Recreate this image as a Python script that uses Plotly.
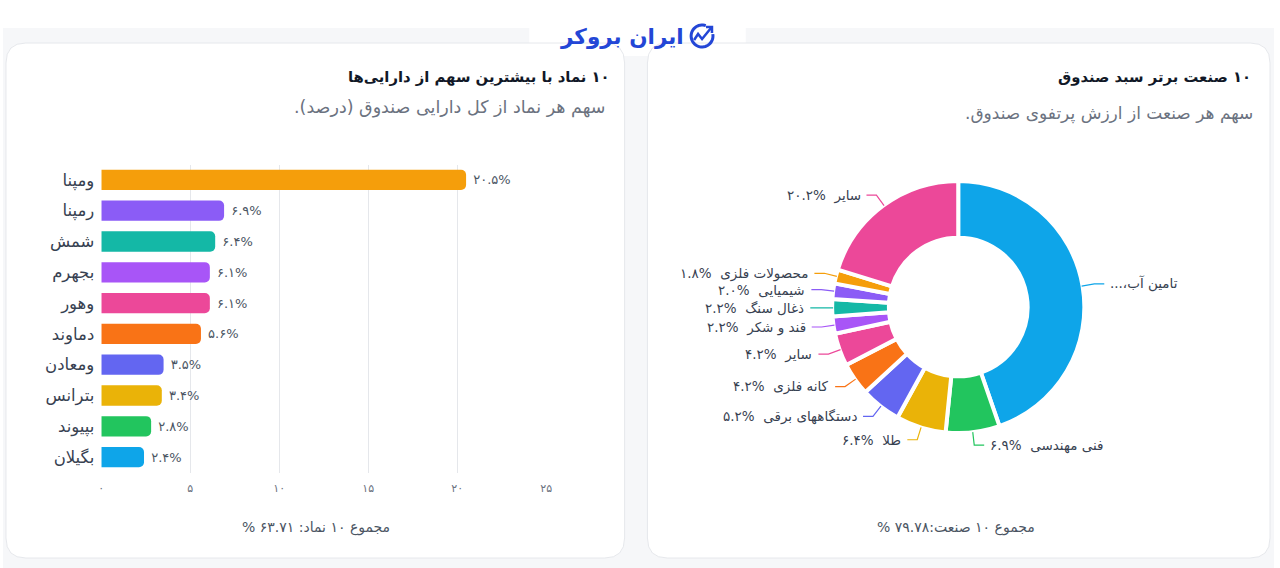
import math
import plotly.graph_objects as go

W, H = 1280, 568

# ---------------- data ----------------
symbols = ['ومپنا', 'رمپنا', 'شمش', 'بجهرم', 'وهور', 'دماوند', 'ومعادن', 'بترانس', 'بپیوند', 'بگیلان']
symbol_weights = [20.5, 6.9, 6.4, 6.1, 6.1, 5.6, 3.5, 3.4, 2.8, 2.4]
symbol_colors = ['#f59e0b', '#8b5cf6', '#14b8a6', '#a855f7', '#ec4899',
                 '#f97316', '#6366f1', '#eab308', '#22c55e', '#0ea5e9']
x_ticks = [0, 5, 10, 15, 20, 25]

industries = ['تامین آب، برق، گاز', 'فنی مهندسی', 'طلا', 'دستگاههای برقی', 'کانه فلزی',
              'سایر', 'قند و شکر', 'ذغال سنگ', 'شیمیایی', 'محصولات فلزی', 'سایر']
industry_shares = [44.7, 6.9, 6.4, 5.2, 4.2, 4.2, 2.2, 2.2, 2.0, 1.8, 20.2]
industry_colors = ['#0ea5e9', '#22c55e', '#eab308', '#6366f1', '#f97316',
                   '#ec4899', '#a855f7', '#14b8a6', '#8b5cf6', '#f59e0b', '#ec4899']

title_left = '۱۰ نماد با بیشترین سهم از دارایی‌ها'
subtitle_left = 'سهم هر نماد از کل دارایی صندوق (درصد).'
footer_left = 'مجموع ۱۰ نماد: ۶۳.۷۱ %'
title_right = '۱۰ صنعت برتر سبد صندوق'
subtitle_right = 'سهم هر صنعت از ارزش پرتفوی صندوق.'
footer_right = 'مجموع ۱۰ صنعت:۷۹.۷۸ %'
brand = 'ایران بروکر'

FONT = 'DejaVu Sans'
RLE, PDF = '\u202b', '\u202c'
FA = str.maketrans('0123456789', '۰۱۲۳۴۵۶۷۸۹')


def fa(s):
    return str(s).translate(FA)


def px(x):
    return x / W


def py(y):
    return 1 - y / H


def rrect(x0, y0, x1, y1, r):
    pts = [
        f"M {px(x0 + r)} {py(y0)}",
        f"L {px(x1 - r)} {py(y0)}",
        f"Q {px(x1)} {py(y0)} {px(x1)} {py(y0 + r)}",
        f"L {px(x1)} {py(y1 - r)}",
        f"Q {px(x1)} {py(y1)} {px(x1 - r)} {py(y1)}",
        f"L {px(x0 + r)} {py(y1)}",
        f"Q {px(x0)} {py(y1)} {px(x0)} {py(y1 - r)}",
        f"L {px(x0)} {py(y0 + r)}",
        f"Q {px(x0)} {py(y0)} {px(x0 + r)} {py(y0)} Z",
    ]
    return ' '.join(pts)


fig = go.Figure()

# ---------------- bar chart ----------------
fig.add_trace(go.Bar(
    x=symbol_weights, y=symbols, orientation='h',
    marker=dict(color=symbol_colors, line=dict(width=0)),
    width=0.66,
    text=[' ' + fa(f"{v:.1f}%") for v in symbol_weights],
    textposition='outside', cliponaxis=False,
    textfont=dict(family=FONT, size=13, color='#4b5563'),
    showlegend=False, hoverinfo='x+y',
))

# ---------------- donut ----------------
cx, cy, R = 962, 307, 127
fig.add_trace(go.Pie(
    labels=[f"{n}#{i}" for i, n in enumerate(industries)],
    values=industry_shares,
    marker=dict(colors=industry_colors, line=dict(color='white', width=4)),
    hole=0.55, sort=False, direction='clockwise', rotation=0,
    textinfo='none', showlegend=False, hoverinfo='percent',
    domain=dict(x=[px(cx - R), px(cx + R)], y=[py(cy + R), py(cy - R)]),
))

shapes = []
annotations = []

# backgrounds
shapes.append(dict(type='rect', xref='paper', yref='paper', x0=0, x1=1, y0=0, y1=py(28),
                   fillcolor='#f6f7f9', line=dict(width=0), layer='below'))
shapes.append(dict(type='path', xref='paper', yref='paper', path=rrect(530, 4, 748, 56, 12),
                   fillcolor='white', line=dict(width=0), layer='below'))
for (x0, x1) in [(3, 626), (649, 1276)]:
    shapes.append(dict(type='path', xref='paper', yref='paper', path=rrect(x0, 43, x1, 558, 20),
                       fillcolor='white', line=dict(color='#e6e8ec', width=1), layer='below'))

# donut labels with leader lines
Rv = 125
total = sum(industry_shares)
cum = 0.0
for name, val, col in zip(industries, industry_shares, industry_colors):
    mid = (cum + val / 2) / total * 2 * math.pi
    cum += val
    sx, sy = math.sin(mid), -math.cos(mid)
    x0, y0 = cx + (Rv + 1) * sx, cy + (Rv + 1) * sy
    x1, y1 = cx + (Rv + 14) * sx, cy + (Rv + 14) * sy
    side = 1 if sx > 0 else -1
    x2, y2 = x1 + side * 10, y1
    shapes.append(dict(type='path', xref='paper', yref='paper',
                       path=f"M {px(x0)} {py(y0)} L {px(x1)} {py(y1)} L {px(x2)} {py(y2)}",
                       line=dict(color=col, width=1.2)))
    if len(name) > 15:
        label = RLE + name[:9] + '...' + PDF
    else:
        label = fa(f"{val:.1f}%") + '  ' + name
    annotations.append(dict(xref='paper', yref='paper', x=px(x2 + side * 4), y=py(y2),
                            text=label, showarrow=False,
                            xanchor='left' if side > 0 else 'right', yanchor='middle',
                            font=dict(family=FONT, size=13.5, color='#374151')))

# titles / subtitles / footers
annotations += [
    dict(x=px(613), y=py(77), text='<b>' + RLE + title_left + PDF + '</b>', xanchor='right',
         font=dict(family=FONT, size=14.8, color='#111827')),
    dict(x=px(609), y=py(108), text=RLE + subtitle_left + PDF, xanchor='right',
         font=dict(family=FONT, size=17.5, color='#6b7280')),
    dict(x=px(1259), y=py(77), text='<b>' + RLE + title_right + PDF + '</b>', xanchor='right',
         font=dict(family=FONT, size=14.8, color='#111827')),
    dict(x=px(1261), y=py(113), text=RLE + subtitle_right + PDF, xanchor='right',
         font=dict(family=FONT, size=17, color='#6b7280')),
    dict(x=px(315), y=py(527), text=RLE + footer_left + PDF, xanchor='center',
         font=dict(family=FONT, size=14, color='#4b5563')),
    dict(x=px(960), y=py(527), text=RLE + footer_right + PDF, xanchor='center',
         font=dict(family=FONT, size=14, color='#4b5563')),
    dict(x=px(688), y=py(36), text='<b>' + brand + '</b>', xanchor='right',
         font=dict(family=FONT, size=21.5, color='#2346d6')),
]
for a in annotations:
    a.setdefault('xref', 'paper')
    a.setdefault('yref', 'paper')
    a.setdefault('showarrow', False)
    a.setdefault('yanchor', 'middle')

# logo icon
icx, icy, ir = 704, 36, 11
arc = []
for k in range(0, 41):
    t = math.radians(70 + k * 7.5)
    arc.append((icx + ir * math.cos(t), icy - ir * math.sin(t)))
shapes.append(dict(type='path', xref='paper', yref='paper',
                   path='M ' + ' L '.join(f"{px(a)} {py(b)}" for a, b in arc),
                   line=dict(color='#2346d6', width=3)))
shapes.append(dict(type='path', xref='paper', yref='paper',
                   path=f"M {px(696)} {py(40)} L {px(700)} {py(34)} L {px(704)} {py(39)} L {px(713)} {py(28)}",
                   line=dict(color='#2346d6', width=2.5)))
shapes.append(dict(type='path', xref='paper', yref='paper',
                   path=f"M {px(708)} {py(27)} L {px(714)} {py(27)} L {px(714)} {py(33)}",
                   line=dict(color='#2346d6', width=2.5)))

fig.update_layout(
    width=W, height=H,
    margin=dict(l=0, r=0, t=0, b=0),
    paper_bgcolor='white', plot_bgcolor='rgba(0,0,0,0)',
    font=dict(family=FONT),
    barcornerradius=5,
    shapes=shapes, annotations=annotations,
    xaxis=dict(domain=[px(99), px(547)], range=[0, 25],
               tickvals=x_ticks, ticktext=[fa(t) for t in x_ticks],
               showgrid=True, gridcolor='#e5e7eb', gridwidth=1, zeroline=False,
               showline=False, ticks='', ticklabelstandoff=7,
               tickfont=dict(family=FONT, size=11, color='#6b7280'), fixedrange=True),
    yaxis=dict(domain=[py(472.5), py(164.5)], autorange='reversed',
               showgrid=False, zeroline=False, showline=False, ticks='',
               ticklabelstandoff=6,
               tickfont=dict(family=FONT, size=16.5, color='#374151'), fixedrange=True),
)

fig.write_html('out.html')
